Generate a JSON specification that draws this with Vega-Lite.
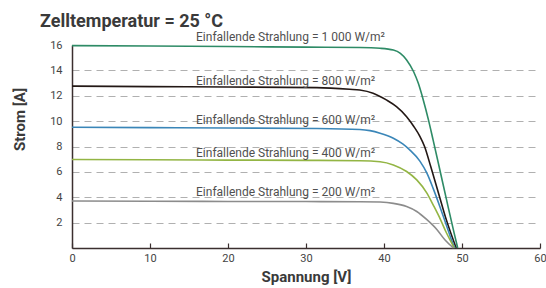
{
  "$schema": "https://vega.github.io/schema/vega-lite/v6.json",
  "width": 468,
  "height": 203,
  "autosize": {"type": "none"},
  "padding": {"left": 72, "top": 45, "right": 6, "bottom": 40},
  "background": "white",
  "title": {"text": "Zelltemperatur = 25 °C", "anchor": "start", "frame": "group", "dx": -32, "offset": 0, "fontSize": 18, "fontWeight": "bold", "font": "Roboto", "color": "#3a3a3a"},
  "config": {"view": {"stroke": null}, "font": "Roboto"},
  "datasets": {
    "curves": [
      {"series": "1000", "V": 0, "I": 15.95}, {"series": "1000", "V": 10, "I": 15.92}, {"series": "1000", "V": 20, "I": 15.88}, {"series": "1000", "V": 30, "I": 15.83}, {"series": "1000", "V": 36.9, "I": 15.8}, {"series": "1000", "V": 39.5, "I": 15.74}, {"series": "1000", "V": 41.2, "I": 15.6}, {"series": "1000", "V": 42.1, "I": 15.34}, {"series": "1000", "V": 42.9, "I": 14.82}, {"series": "1000", "V": 43.8, "I": 13.89}, {"series": "1000", "V": 44.4, "I": 12.98}, {"series": "1000", "V": 45.0, "I": 11.75}, {"series": "1000", "V": 45.7, "I": 10.1}, {"series": "1000", "V": 46.3, "I": 8.5}, {"series": "1000", "V": 47.0, "I": 6.6}, {"series": "1000", "V": 48.0, "I": 3.85}, {"series": "1000", "V": 49.0, "I": 1.15}, {"series": "1000", "V": 49.45, "I": 0},
      {"series": "800", "V": 0, "I": 12.76}, {"series": "800", "V": 10, "I": 12.72}, {"series": "800", "V": 20, "I": 12.69}, {"series": "800", "V": 31.4, "I": 12.64}, {"series": "800", "V": 35.6, "I": 12.51}, {"series": "800", "V": 36.9, "I": 12.45}, {"series": "800", "V": 38.6, "I": 12.2}, {"series": "800", "V": 40.3, "I": 11.67}, {"series": "800", "V": 41.6, "I": 11.14}, {"series": "800", "V": 42.9, "I": 10.35}, {"series": "800", "V": 43.8, "I": 9.6}, {"series": "800", "V": 44.6, "I": 8.8}, {"series": "800", "V": 45.2, "I": 8.0}, {"series": "800", "V": 46.0, "I": 6.4}, {"series": "800", "V": 47.0, "I": 4.3}, {"series": "800", "V": 48.0, "I": 2.2}, {"series": "800", "V": 49.25, "I": 0},
      {"series": "600", "V": 0, "I": 9.52}, {"series": "600", "V": 10, "I": 9.49}, {"series": "600", "V": 20, "I": 9.46}, {"series": "600", "V": 31.4, "I": 9.42}, {"series": "600", "V": 36.9, "I": 9.34}, {"series": "600", "V": 38.2, "I": 9.25}, {"series": "600", "V": 39.5, "I": 9.05}, {"series": "600", "V": 41.2, "I": 8.65}, {"series": "600", "V": 42.4, "I": 8.2}, {"series": "600", "V": 43.3, "I": 7.73}, {"series": "600", "V": 44.6, "I": 6.85}, {"series": "600", "V": 45.5, "I": 5.9}, {"series": "600", "V": 46.3, "I": 4.7}, {"series": "600", "V": 47.2, "I": 3.2}, {"series": "600", "V": 48.0, "I": 1.8}, {"series": "600", "V": 48.9, "I": 0.25}, {"series": "600", "V": 49.1, "I": 0},
      {"series": "400", "V": 0, "I": 6.98}, {"series": "400", "V": 10, "I": 6.95}, {"series": "400", "V": 20, "I": 6.93}, {"series": "400", "V": 30, "I": 6.91}, {"series": "400", "V": 36.9, "I": 6.88}, {"series": "400", "V": 39.5, "I": 6.8}, {"series": "400", "V": 41.2, "I": 6.55}, {"series": "400", "V": 42.9, "I": 6.03}, {"series": "400", "V": 44.2, "I": 5.37}, {"series": "400", "V": 45.5, "I": 4.33}, {"series": "400", "V": 46.3, "I": 3.4}, {"series": "400", "V": 47.2, "I": 2.3}, {"series": "400", "V": 48.0, "I": 1.2}, {"series": "400", "V": 48.9, "I": 0.13}, {"series": "400", "V": 49.0, "I": 0},
      {"series": "200", "V": 0, "I": 3.7}, {"series": "200", "V": 10, "I": 3.68}, {"series": "200", "V": 20, "I": 3.67}, {"series": "200", "V": 30, "I": 3.66}, {"series": "200", "V": 36.9, "I": 3.65}, {"series": "200", "V": 39.5, "I": 3.62}, {"series": "200", "V": 41.2, "I": 3.52}, {"series": "200", "V": 42.9, "I": 3.27}, {"series": "200", "V": 44.2, "I": 2.88}, {"series": "200", "V": 45.5, "I": 2.23}, {"series": "200", "V": 46.8, "I": 1.44}, {"series": "200", "V": 47.8, "I": 0.65}, {"series": "200", "V": 48.9, "I": 0}
    ],
    "labels": [
      {"V": 15.9, "I": 16.6, "label": "Einfallende Strahlung = 1 000 W/m²"},
      {"V": 15.9, "I": 13.2, "label": "Einfallende Strahlung = 800 W/m²"},
      {"V": 15.9, "I": 10.09, "label": "Einfallende Strahlung = 600 W/m²"},
      {"V": 15.9, "I": 7.52, "label": "Einfallende Strahlung = 400 W/m²"},
      {"V": 15.9, "I": 4.41, "label": "Einfallende Strahlung = 200 W/m²"}
    ]
  },
  "layer": [
    {
      "data": {"name": "curves"},
      "mark": {"type": "line", "interpolate": "monotone", "strokeWidth": 1.6, "clip": false},
      "encoding": {
        "x": {"field": "V", "type": "quantitative", "scale": {"domain": [0, 60], "nice": false},
          "axis": {"title": "Spannung [V]", "values": [0, 10, 20, 30, 40, 50, 60], "tickCount": 7, "grid": false, "tickSize": -5, "tickColor": "#3b2f2f", "tickWidth": 1.2, "labelPadding": 9, "labelFontSize": 11, "labelColor": "#444", "labelFont": "Roboto", "labelOverlap": false, "domainColor": "#3b2f2f", "domainWidth": 1.5, "titleFontSize": 15, "titleFontWeight": "bold", "titleFont": "Roboto", "titleColor": "#3a3a3a", "titlePadding": 6, "labelFlush": false}},
        "y": {"field": "I", "type": "quantitative", "scale": {"domain": [0, 16], "nice": false},
          "axis": {"title": "Strom [A]", "values": [2, 4, 6, 8, 10, 12, 14, 16], "tickCount": 8, "grid": true, "gridDash": [7, 5], "gridColor": "#b0b0b0", "gridWidth": 1, "gridOpacity": {"condition": {"test": "datum.value == 16", "value": 0}, "value": 1}, "ticks": false, "labelPadding": 10, "labelOverlap": false, "labelFontSize": 11, "labelColor": "#444", "labelFont": "Roboto", "domainColor": "#3b2f2f", "domainWidth": 1.5, "titleFontSize": 15, "titleFontWeight": "bold", "titleFont": "Roboto", "titleColor": "#3a3a3a", "titlePadding": 22, "titleY": 74}},
        "color": {"field": "series", "type": "nominal", "scale": {"domain": ["1000", "800", "600", "400", "200"], "range": ["#2e8b66", "#231815", "#3a86b8", "#93b544", "#8c8c8c"]}, "legend": null}
      }
    },
    {
      "data": {"name": "labels"},
      "mark": {"type": "text", "align": "left", "baseline": "middle", "fontSize": 12, "color": "#505050", "font": "Roboto"},
      "encoding": {
        "x": {"field": "V", "type": "quantitative"},
        "y": {"field": "I", "type": "quantitative"},
        "text": {"field": "label"}
      }
    }
  ]
}
